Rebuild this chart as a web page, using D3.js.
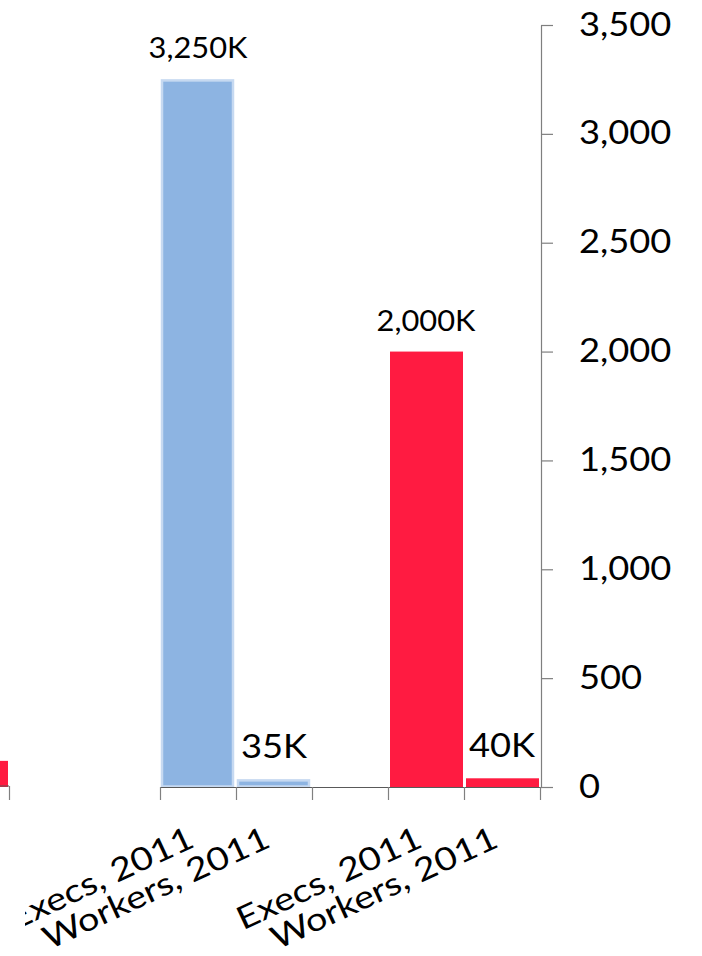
<!DOCTYPE html>
<html><head><meta charset="utf-8">
<script src="https://cdn.jsdelivr.net/npm/d3@7"></script>
<style>body{margin:0;background:#fff;overflow:hidden;} svg{display:block;}</style>
</head><body>
<script>
// ---- data ----
const slotKeys = ["blue-execs", "blue-workers", "gap", "red-execs", "red-workers"];
const categories = ["Execs, 2011", "Workers, 2011", "", "Execs, 2011", "Workers, 2011"];
const values = [3250, 35, null, 2000, 40];
const valueLabels = ["3,250K", "35K", "", "2,000K", "40K"];
const seriesOf = ["blue", "blue", null, "red", "red"];
const yTicks = [0, 500, 1000, 1500, 2000, 2500, 3000, 3500];
// fragment of the neighbouring chart on the left edge
const leftCategories = ["Workers, 2011"];
const leftValues = [120];

const W = 702, H = 956;
const FONT = "Lato, 'Open Sans', sans-serif";
const colors = {blue: "#8db4e2", red: "#ff1b41"};
const blueStroke = "#c6d9f1";

const svg = d3.select("body").append("svg").attr("width", W).attr("height", H);
const defs = svg.append("defs");
const f = defs.append("filter").attr("id", "shadow").attr("x", "-200%").attr("y", "-5%").attr("width", "500%").attr("height", "110%");
f.append("feGaussianBlur").attr("in", "SourceAlpha").attr("stdDeviation", 2.5).attr("result", "b");
f.append("feOffset").attr("in", "b").attr("dx", 1).attr("dy", 2).attr("result", "o");
const ct = f.append("feComponentTransfer").attr("in", "o").attr("result", "s");
ct.append("feFuncA").attr("type", "linear").attr("slope", 0.35);
const m = f.append("feMerge");
m.append("feMergeNode").attr("in", "s");
m.append("feMergeNode").attr("in", "SourceGraphic");
defs.append("clipPath").attr("id", "labelClip").append("rect")
  .attr("x", 25).attr("y", 790).attr("width", W).attr("height", H);

const y = d3.scaleLinear().domain([0, 3500]).range([787, 25]);
const x = d3.scaleBand().domain(slotKeys).range([160, 540]).padding(0);
const bw = x.bandwidth();
const leftX = d3.scaleBand().domain(leftCategories).range([-68, 9]);

// left fragment
svg.selectAll("rect.left").data(leftValues).join("rect")
  .attr("x", (d, i) => leftX(leftCategories[i]) + 2)
  .attr("width", leftX.bandwidth() - 3)
  .attr("y", d => y(d)).attr("height", d => y(0) - y(d))
  .attr("fill", colors.red);
svg.append("line").attr("x1", -68).attr("x2", leftX.range()[1]).attr("y1", y(0) - 1).attr("y2", y(0) - 1)
  .attr("stroke", "#595959").attr("stroke-width", 1);
svg.append("line").attr("x1", leftX.range()[1] + 0.5).attr("x2", leftX.range()[1] + 0.5)
  .attr("y1", y(0) - 1).attr("y2", y(0) + 13).attr("stroke", "#808080").attr("stroke-width", 1.2);

// divider line
svg.append("line").attr("x1", 24.5).attr("x2", 24.5).attr("y1", -5).attr("y2", 782)
  .attr("stroke", "#000").attr("stroke-width", 5).attr("filter", "url(#shadow)");

// bars
const idx = d3.range(slotKeys.length).filter(i => values[i] != null);
svg.selectAll("rect.bar").data(idx).join("rect").attr("class", "bar")
  .attr("x", i => x(slotKeys[i]) + 2)
  .attr("width", i => seriesOf[i] === "blue" ? bw - 5 : bw - 3)
  .attr("y", i => y(values[i]) + (seriesOf[i] === "blue" ? 1 : 0))
  .attr("height", i => y(0) - y(values[i]) - (seriesOf[i] === "blue" ? 1.5 : 0))
  .attr("fill", i => colors[seriesOf[i]])
  .attr("stroke", i => seriesOf[i] === "blue" ? blueStroke : "none")
  .attr("stroke-width", 2.5);

// x axis baseline and ticks
const bounds = slotKeys.map(k => x(k)).concat([x.range()[1]]);
svg.append("line").attr("x1", 160).attr("x2", 553).attr("y1", y(0) + 0.5).attr("y2", y(0) + 0.5)
  .attr("stroke", "#595959").attr("stroke-width", 1.2);
svg.selectAll("line.xt").data(bounds).join("line").attr("class", "xt")
  .attr("x1", d => d + 0.5).attr("x2", d => d + 0.5)
  .attr("y1", y(0)).attr("y2", y(0) + 13)
  .attr("stroke", "#808080").attr("stroke-width", 1.2);

// right y axis
const ax = svg.append("g").attr("transform", "translate(541,0)")
  .call(d3.axisRight(y).tickValues(yTicks).tickSize(12).tickSizeOuter(0).tickFormat(d3.format(",")));
ax.select(".domain").attr("stroke", "#7f7f7f").attr("stroke-width", 1.2);
ax.selectAll(".tick line").attr("stroke", "#7f7f7f").attr("stroke-width", 1.2);
ax.selectAll(".tick text")
  .attr("x", 38 / 1.1).attr("dy", "10px")
  .attr("transform", "scale(1.1,1)")
  .attr("fill", "#000").style("font-family", FONT).style("font-size", "33px");

// value labels
svg.selectAll("text.vl").data(idx).join("text").attr("class", "vl")
  .attr("text-anchor", "middle")
  .attr("transform", i => `translate(${x(slotKeys[i]) + bw / 2},${y(values[i]) - 21}) scale(1.1,1)`)
  .style("font-family", FONT)
  .style("font-size", i => valueLabels[i].length > 4 ? "28px" : "33px")
  .attr("fill", "#000")
  .text(i => valueLabels[i]);

// category labels
svg.append("g").attr("clip-path", "url(#labelClip)")
  .selectAll("text.cl").data(idx).join("text").attr("class", "cl")
  .attr("text-anchor", "end")
  .attr("transform", i => `translate(${x(slotKeys[i]) + bw / 2 - 2},846) rotate(-25) scale(1.18,1)`)
  .style("font-family", FONT).style("font-size", "32px").attr("fill", "#000")
  .text(i => categories[i]);
</script>
</body></html>
